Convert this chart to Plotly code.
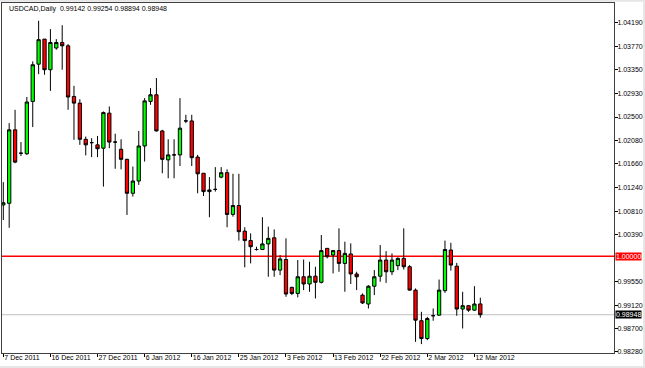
import plotly.graph_objects as go

# ---- data ----
opens = [1.0092, 1.0095, 1.0227, 1.0185, 1.0184, 1.0278, 1.0345, 1.0390, 1.0335, 1.0374,
         1.0384, 1.0378, 1.0287, 1.0275, 1.0210, 1.0204, 1.0200, 1.0194, 1.0257, 1.0205,
         1.0192, 1.0174, 1.0113, 1.0135, 1.0198, 1.0278, 1.0290, 1.0225, 1.0173, 1.0182,
         1.0182, 1.0243, 1.0243, 1.0178, 1.0149, 1.0116, 1.0120, 1.0142, 1.0150, 1.0075,
         1.0091, 1.0045, 1.0028, 1.0012, 1.0012, 1.0022, 1.0033, 0.9975, 0.9994, 0.9944,
         0.9933, 0.9963, 0.9950, 0.9964, 0.9953, 1.0014, 1.0002, 1.0010, 0.9987, 1.0004,
         0.9968, 0.9930, 0.9914, 0.9946, 0.9964, 0.9993, 0.9972, 0.9983, 0.9996, 0.9981,
         0.9939, 0.9884, 0.9852, 0.9893, 0.9894, 0.9938, 1.0011, 0.9982, 0.9905, 0.9911,
         0.9903, 0.99142]
highs = [1.0133, 1.0239, 1.0263, 1.0205, 1.0286, 1.0350, 1.0423, 1.0390, 1.0408, 1.0390,
         1.0415, 1.0381, 1.0306, 1.0282, 1.0215, 1.0212, 1.0216, 1.0260, 1.0269, 1.0220,
         1.0210, 1.0175, 1.0161, 1.0225, 1.0284, 1.0302, 1.0320, 1.0227, 1.0210, 1.0210,
         1.0284, 1.0254, 1.0254, 1.0182, 1.0149, 1.0142, 1.0160, 1.0160, 1.0156, 1.0148,
         1.0148, 1.0052, 1.0041, 1.0017, 1.0070, 1.0053, 1.0048, 1.0002, 1.0032, 0.9945,
         0.9993, 0.9994, 0.9990, 0.9981, 1.0038, 1.0014, 1.0011, 1.0050, 1.0026, 1.0023,
         0.9972, 0.9933, 0.9948, 0.9975, 1.0020, 1.0009, 1.0005, 0.9998, 1.0050, 0.9984,
         0.9942, 0.9900, 0.9891, 0.9906, 0.9958, 1.0028, 1.0024, 0.9988, 0.9936, 0.9912,
         0.9946, 0.99254]
lows = [1.0065, 1.0051, 1.0167, 1.0180, 1.0182, 1.0232, 1.0327, 1.0326, 1.0297, 1.0371,
        1.0335, 1.0263, 1.0209, 1.0200, 1.0181, 1.0178, 1.0178, 1.0125, 1.0194, 1.0157,
        1.0156, 1.0074, 1.0107, 1.0128, 1.0170, 1.0272, 1.0224, 1.0149, 1.0140, 1.0140,
        1.0162, 1.0239, 1.0162, 1.0113, 1.0108, 1.0070, 1.0116, 1.0140, 1.0052, 1.0071,
        1.0028, 0.9980, 0.9987, 1.0010, 1.0011, 0.9963, 0.9963, 0.9966, 0.9927, 0.9930,
        0.9926, 0.9939, 0.9936, 0.9924, 0.9951, 0.9996, 0.9969, 0.9972, 0.9936, 0.9950,
        0.9939, 0.9914, 0.9906, 0.9930, 0.9954, 0.9952, 0.9966, 0.9975, 0.9976, 0.9938,
        0.9846, 0.9842, 0.9849, 0.9884, 0.9893, 0.9934, 0.9974, 0.9893, 0.9870, 0.9900,
        0.9902, 0.98894]
closes = [1.0096, 1.0227, 1.0169, 1.0185, 1.0277, 1.0344, 1.0389, 1.0335, 1.0384, 1.0384,
          1.0378, 1.0286, 1.0275, 1.0210, 1.0200, 1.0204, 1.0193, 1.0258, 1.0205, 1.0205,
          1.0174, 1.0113, 1.0135, 1.0198, 1.0279, 1.0290, 1.0225, 1.0174, 1.0182, 1.0182,
          1.0230, 1.0243, 1.0177, 1.0148, 1.0116, 1.0119, 1.0120, 1.0150, 1.0075, 1.0091,
          1.0044, 1.0028, 1.0017, 1.0012, 1.0022, 1.0032, 0.9975, 0.9995, 0.9932, 0.9933,
          0.9963, 0.9950, 0.9964, 0.9953, 1.0010, 0.9999, 1.0010, 0.9987, 1.0005, 0.9968,
          0.9963, 0.9916, 0.9946, 0.9963, 0.9993, 0.9972, 0.9993, 0.9996, 0.9981, 0.9939,
          0.9885, 0.9852, 0.9888, 0.9893, 0.9939, 1.0012, 0.9984, 0.9905, 0.9911, 0.9903,
          0.9914, 0.98948]
bar_index = list(range(len(opens)))

date_tick_index = [0, 8, 16, 24, 32, 40, 48, 56, 64, 72, 80]
date_tick_labels = ["7 Dec 2011", "16 Dec 2011", "27 Dec 2011", "6 Jan 2012", "16 Jan 2012",
                    "25 Jan 2012", "3 Feb 2012", "13 Feb 2012", "22 Feb 2012", "2 Mar 2012",
                    "12 Mar 2012"]
price_ticks = [1.04190, 1.03770, 1.03350, 1.02930, 1.02500, 1.02080, 1.01660, 1.01240,
               1.00810, 1.00390, 0.99550, 0.99120, 0.98700, 0.98280]
price_tick_labels = ["%.5f" % v for v in price_ticks]
level_line = 1.00000
last_price = closes[-1]
symbol_title = "USDCAD,Daily"

FONT = "Liberation Sans, Arial, sans-serif"

fig = go.Figure()
fig.add_trace(go.Candlestick(
    x=bar_index, open=opens, high=highs, low=lows, close=closes,
    increasing=dict(line=dict(color="#000000", width=1), fillcolor="#00FF00"),
    decreasing=dict(line=dict(color="#000000", width=1), fillcolor="#FF0000"),
    whiskerwidth=0, hoverinfo="skip", showlegend=False,
))

# horizontal level line at 1.00000 and current price line
fig.add_shape(type="line", xref="paper", x0=0, x1=1, yref="y", y0=level_line, y1=level_line,
              line=dict(color="#FF0000", width=1.5), layer="below")
fig.add_shape(type="line", xref="paper", x0=0, x1=1, yref="y", y0=last_price, y1=last_price,
              line=dict(color="#C0C0C0", width=1), layer="below")

# thin window border strips (right, bottom, top)
for (x0, x1, y0, y1) in [(1.0475, 1.06, -0.06, 1.02), (-0.01, 1.06, -0.06, -0.037),
                         (-0.01, 1.06, 1.0035, 1.02)]:
    fig.add_shape(type="rect", xref="paper", yref="paper", x0=x0, x1=x1, y0=y0, y1=y1,
                  line=dict(width=0), fillcolor="#E6E6E6", layer="below")

fig.add_annotation(xref="paper", yref="paper", x=0.008, y=0.983, xanchor="left", yanchor="middle",
                   text="%s&nbsp;&nbsp;%.5f %.5f %.5f %.5f" % (symbol_title, opens[-1], highs[-1], lows[-1], closes[-1]),
                   showarrow=False, font=dict(family=FONT, size=7, color="#000000"))

fig.add_annotation(xref="paper", yref="y", x=1.002, y=level_line, xanchor="left", yanchor="middle",
                   text="%.5f" % level_line, showarrow=False, bgcolor="#FF0000", borderpad=0,
                   font=dict(family=FONT, size=7, color="#FFFFFF"))
fig.add_annotation(xref="paper", yref="y", x=1.002, y=last_price, xanchor="left", yanchor="middle",
                   text="%.5f" % last_price, showarrow=False, bgcolor="#000000", borderpad=0,
                   font=dict(family=FONT, size=7, color="#FFFFFF"))

fig.update_layout(
    width=645, height=368,
    margin=dict(l=2, r=31, t=3, b=15, autoexpand=False),
    paper_bgcolor="#FFFFFF", plot_bgcolor="#FFFFFF",
    boxgap=0.2, boxgroupgap=0.3,
    showlegend=False,
    font=dict(family=FONT, size=7, color="#000000"),
    xaxis=dict(
        range=[-0.22, 103.7], rangeslider=dict(visible=False), automargin=False,
        tickmode="array", tickvals=date_tick_index, ticktext=date_tick_labels, tickangle=0,
        ticks="outside", ticklen=3, tickcolor="#000000", ticklabelposition="outside right",
        ticklabelstandoff=-2,
        showgrid=False, zeroline=False, showline=True, mirror=True, linecolor="#404040", linewidth=1,
        tickfont=dict(family=FONT, size=7, color="#000000"),
    ),
    yaxis=dict(
        range=[0.98260, 1.04549], side="right", automargin=False,
        tickmode="array", tickvals=price_ticks, ticktext=price_tick_labels,
        ticks="outside", ticklen=3, tickcolor="#000000", ticklabelstandoff=-2,
        showgrid=False, zeroline=False, showline=True, mirror=True, linecolor="#404040", linewidth=1,
        tickfont=dict(family=FONT, size=7, color="#000000"),
    ),
)

fig.write_html("out.html", config={"displayModeBar": False, "staticPlot": True},
               post_script="document.body.style.margin='0';document.body.style.overflow='hidden';")
